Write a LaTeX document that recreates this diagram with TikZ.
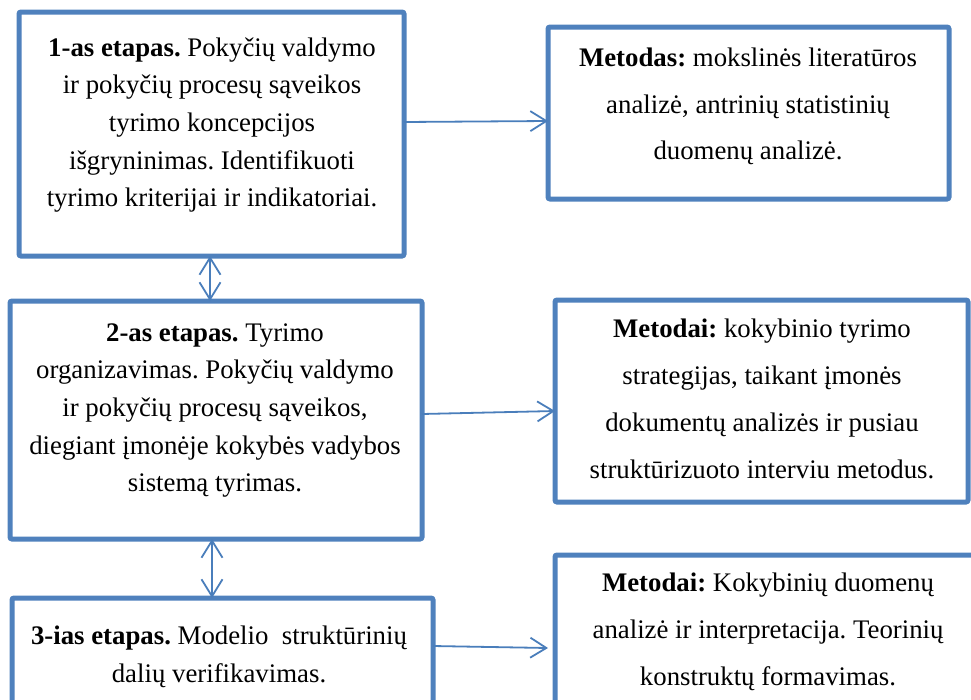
\documentclass[tikz,border=0pt]{standalone}
\usepackage{fontspec}
\setmainfont{Liberation Serif}
\usetikzlibrary{arrows.meta}
\definecolor{frame}{HTML}{4F81BD}
\definecolor{link}{HTML}{4A7EBB}
\tikzset{
  x=1pt, y=-1pt,
  stagebox/.style={draw=frame, line width=5pt, rounded corners=2pt, fill=white,
    inner sep=0pt, outer sep=0pt},
  stagetext/.style={align=center, inner sep=0pt,
    font=\fontsize{26.8}{37.6}\selectfont},
  methodtext/.style={align=center, inner sep=0pt,
    font=\fontsize{26.8}{46.8}\selectfont},
  flow/.style={draw=link, line width=1.8pt,
    -{Straight Barb[length=16pt,width=20pt,line width=1.8pt]}},
  twoway/.style={draw=link, line width=1.8pt,
    {Straight Barb[length=17pt,width=21pt,line width=1.8pt]}-{Straight Barb[length=17pt,width=21pt,line width=1.8pt]}},
}
\frenchspacing
\begin{document}
\begin{tikzpicture}
\useasboundingbox (0,0) rectangle (971,699);
\clip (0,0) rectangle (971,699);

% stage boxes on the left
\node[stagebox, minimum width=385pt, minimum height=244pt] (b1) at (211.5,134) {};
\node[stagebox, minimum width=412pt, minimum height=238pt] (b2) at (216,420) {};
\node[stagebox, minimum width=421pt, minimum height=162pt] (b3) at (222.5,679) {};

% method boxes on the right
\node[stagebox, minimum width=401pt, minimum height=172pt] (m1) at (748.5,113) {};
\node[stagebox, minimum width=413pt, minimum height=202pt] (m2) at (761.5,401) {};
\node[stagebox, minimum width=435pt, minimum height=205pt] (m3) at (772.5,657.5) {};

% texts
\node[stagetext] (t1) at (212,125) {\textbf{1-as etapas.} Pokyčių valdymo\\
  ir pokyčių procesų sąveikos\\ tyrimo koncepcijos\\
  išgryninimas. Identifikuoti\\ tyrimo kriterijai ir indikatoriai.};
\node[stagetext] (t2) at (215,410.5) {\textbf{2-as etapas.} Tyrimo\\
  organizavimas. Pokyčių valdymo\\ ir pokyčių procesų sąveikos,\\
  diegiant įmonėje kokybės vadybos\\ sistemą tyrimas.};
\node[stagetext] (t3) at (219,657) {\textbf{3-ias etapas.} Modelio\ \ struktūrinių\\
  dalių verifikavimas.};

\node[methodtext] (u1) at (748,106.5) {\textbf{Metodas:} mokslinės literatūros\\
  analizė, antrinių statistinių\\ duomenų analizė.};
\node[methodtext] (u2) at (762,399) {\textbf{Metodai:} kokybinio tyrimo\\
  strategijas, taikant įmonės\\ dokumentų analizės ir pusiau\\
  struktūrizuoto interviu metodus.};
\node[methodtext] (u3) at (768,632) {\textbf{Metodai:} Kokybinių duomenų\\
  analizė ir interpretacija. Teorinių\\ konstruktų formavimas.};

% connectors
\draw[flow] ([yshift=12pt]b1.east) -- ([yshift=-8pt]m1.west);
\draw[flow] ([yshift=6pt]b2.east) -- ([yshift=-10pt]m2.west);
\draw[flow] ([yshift=33pt]b3.east) -- ([xshift=-7pt,yshift=9.5pt]m3.west);
\draw[twoway] ([xshift=-1.5pt]b1.south) -- ([xshift=-6pt]b2.north);
\draw[twoway] ([xshift=-4pt]b2.south) -- ([xshift=-10.5pt]b3.north);
\end{tikzpicture}
\end{document}
